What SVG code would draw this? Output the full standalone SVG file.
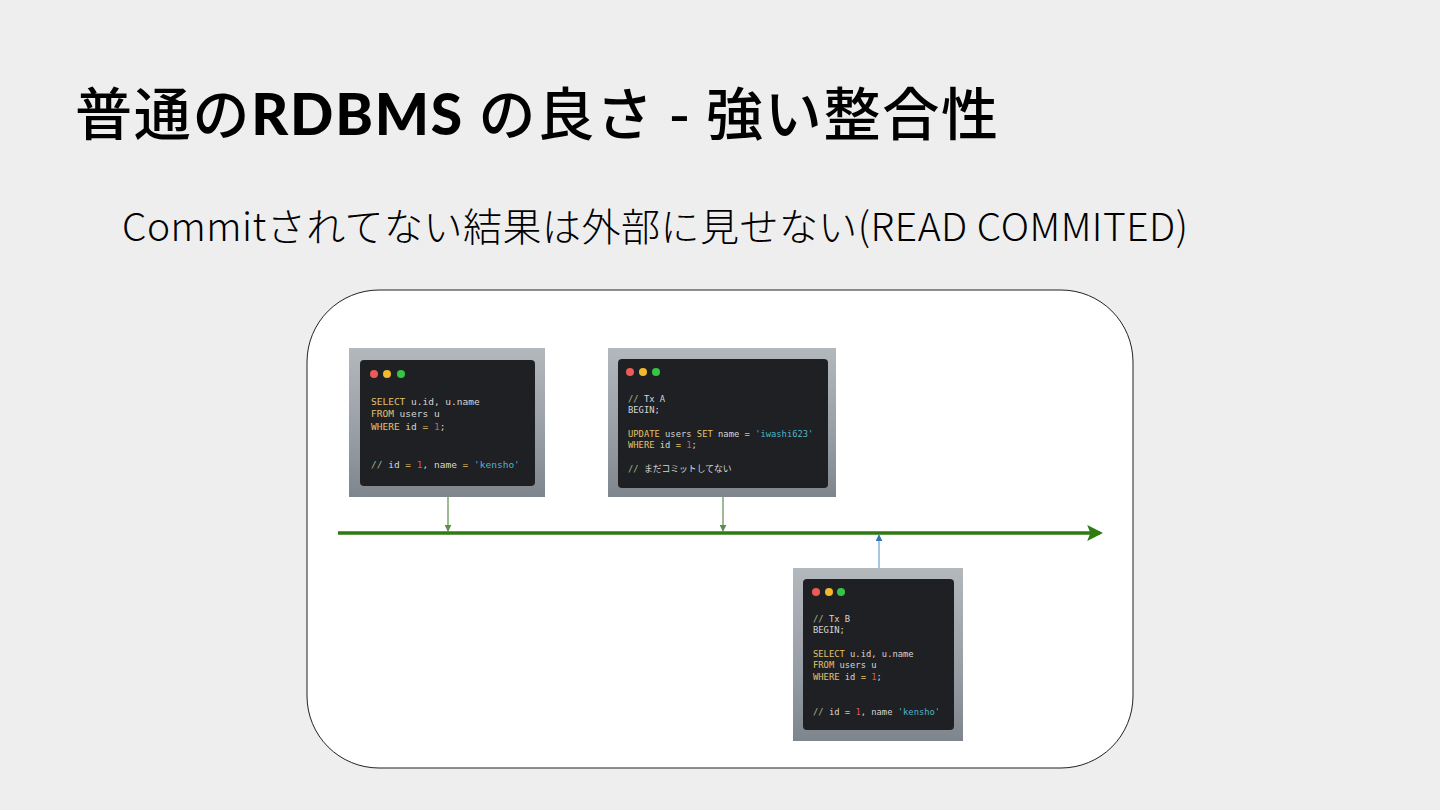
<svg xmlns="http://www.w3.org/2000/svg" width="1440" height="810" viewBox="0 0 1440 810">
<defs>
<style>
.title{font-family:"Noto Sans CJK JP","Noto Sans",sans-serif;font-size:57px;fill:#000;font-weight:500}
.sub{font-family:"Noto Sans CJK JP","Noto Sans",sans-serif;font-size:39px;fill:#000;font-weight:300}
.code{font-family:"DejaVu Sans Mono","Noto Sans CJK JP",monospace;font-size:9.5px;fill:#d6d6d6}
.sm{font-size:8.8px}
.k{fill:#e2c26a}
.n{fill:#d45a5a}
.s{fill:#4fb3c9}
.c{fill:#a3b98a}
.frame{fill:url(#fg)}
.win{fill:#1f2023}
.edge{stroke:#5a8f46;stroke-width:1.2;fill:none}
</style>
<linearGradient id="fg" x1="0" y1="0" x2="0" y2="1">
<stop offset="0" stop-color="#b3b8bd"/>
<stop offset="0.6" stop-color="#979da4"/>
<stop offset="1" stop-color="#7f858d"/>
</linearGradient>
<marker id="mg" viewBox="0 0 10 10" refX="9" refY="5" markerWidth="7" markerHeight="7" markerUnits="userSpaceOnUse" orient="auto">
<path d="M0,0 L10,5 L0,10 z" fill="#5a8f46"/>
</marker>
<marker id="mb" viewBox="0 0 10 10" refX="9" refY="5" markerWidth="7" markerHeight="7" markerUnits="userSpaceOnUse" orient="auto">
<path d="M0,0 L10,5 L0,10 z" fill="#2f78b4"/>
</marker>
<marker id="mt" viewBox="0 0 10 10" refX="8" refY="5" markerWidth="16" markerHeight="16" markerUnits="userSpaceOnUse" orient="auto">
<path d="M0,0 L10,5 L0,10 L2,5 z" fill="#2f7a12"/>
</marker>
</defs>
<rect width="1440" height="810" fill="#eeeeee"/>
<text class="title" x="75" y="135" textLength="923" lengthAdjust="spacing">普通の<tspan font-family="Lato,'Noto Sans',sans-serif" font-weight="900">RDBMS</tspan> の良さ - 強い整合性</text>
<text class="sub" x="122" y="241" textLength="1066" lengthAdjust="spacing">Commitされてない結果は外部に見せない(READ COMMITED)</text>
<rect x="307" y="290" width="826" height="478" rx="72" ry="72" fill="#ffffff" stroke="#222" stroke-width="1"/>
<g id="connectors">
<line x1="338" y1="533" x2="1100" y2="533" stroke="#2f7a12" stroke-width="3.5" marker-end="url(#mt)"/>
<line class="edge" x1="448" y1="497" x2="448" y2="531" marker-end="url(#mg)"/>
<line class="edge" x1="723" y1="497" x2="723" y2="531" marker-end="url(#mg)"/>
<line x1="879" y1="568" x2="879" y2="535" stroke="#6aa3cc" stroke-width="1.2" marker-end="url(#mb)"/>
</g>
<g id="query1">
<rect class="frame" x="349" y="348" width="196" height="149"/>
<rect class="win" x="360" y="360" width="175" height="126" rx="4"/>
<circle cx="374" cy="374" r="4" fill="#ee5b57"/><circle cx="387" cy="374" r="4" fill="#f1b92c"/><circle cx="401" cy="374" r="4" fill="#35c545"/>
<text class="code" x="371" y="404.5"><tspan class="k">SELECT</tspan> u.id, u.name</text>
<text class="code" x="371" y="417"><tspan class="k">FROM</tspan> users u</text>
<text class="code" x="371" y="429.5"><tspan class="k">WHERE</tspan> id <tspan class="k">=</tspan> <tspan class="n">1</tspan>;</text>
<text class="code" x="371" y="467.5"><tspan class="c">//</tspan> id <tspan class="k">=</tspan> <tspan class="n">1</tspan>, name <tspan class="k">=</tspan> <tspan class="s">'kensho'</tspan></text>
</g>
<g id="txA">
<rect class="frame" x="608" y="348" width="228" height="149"/>
<rect class="win" x="618" y="359" width="210" height="129" rx="4"/>
<circle cx="630" cy="372" r="4" fill="#ee5b57"/><circle cx="643" cy="372" r="4" fill="#f1b92c"/><circle cx="656" cy="372" r="4" fill="#35c545"/>
<text class="code sm" x="628" y="401.5"><tspan class="c">//</tspan> Tx A</text>
<text class="code sm" x="628" y="413">BEGIN;</text>
<text class="code sm" x="628" y="436.5"><tspan class="k">UPDATE</tspan> users <tspan class="k">SET</tspan> name <tspan class="k">=</tspan> <tspan class="s">'iwashi623'</tspan></text>
<text class="code sm" x="628" y="448"><tspan class="k">WHERE</tspan> id <tspan class="k">=</tspan> <tspan class="n">1</tspan>;</text>
<text class="code sm" x="628" y="471.5"><tspan class="c">//</tspan> まだコミットしてない</text>
</g>
<g id="txB">
<rect class="frame" x="793" y="568" width="170" height="173"/>
<rect class="win" x="803" y="579" width="151" height="151" rx="4"/>
<circle cx="816" cy="592" r="4" fill="#ee5b57"/><circle cx="829" cy="592" r="4" fill="#f1b92c"/><circle cx="841" cy="592" r="4" fill="#35c545"/>
<text class="code sm" x="813" y="621.5"><tspan class="c">//</tspan> Tx B</text>
<text class="code sm" x="813" y="633">BEGIN;</text>
<text class="code sm" x="813" y="656.5"><tspan class="k">SELECT</tspan> u.id, u.name</text>
<text class="code sm" x="813" y="668"><tspan class="k">FROM</tspan> users u</text>
<text class="code sm" x="813" y="679.5"><tspan class="k">WHERE</tspan> id <tspan class="k">=</tspan> <tspan class="n">1</tspan>;</text>
<text class="code sm" x="813" y="714.5"><tspan class="c">//</tspan> id <tspan class="k">=</tspan> <tspan class="n">1</tspan>, name <tspan class="s">'kensho'</tspan></text>
</g>
</svg>
